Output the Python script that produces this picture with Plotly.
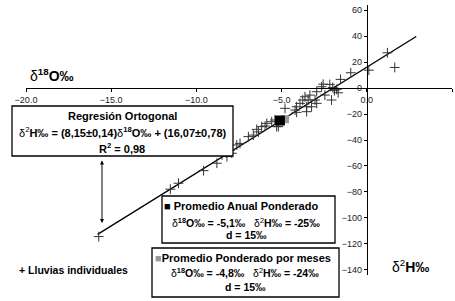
import plotly.graph_objects as go

# Individual rainfall samples (delta 18O, delta 2H)
rain_o18 = [1.21, 1.64, 0.12, -0.94, -1.54, -2.17, -2.56, -1.77, -1.68, -2.07,
            -2.65, -2.94, -2.46, -3.34, -3.63, -3.44, -3.76, -3.04, -2.94, -3.92,
            -3.53, -4.12, -3.24, -4.21, -4.12, -3.53, -4.80, -5.19, -6.66, -6.36,
            -5.97, -5.58, -5.39, -5.29, -5.87, -6.17, -6.46, -6.95, -7.44, -7.63,
            -8.02, -8.21, -8.50, -7.92, -8.21, -8.80, -9.58, -11.05, -11.53, -15.73,
            -2.00, -1.90]
rain_h2 = [27.2, 15.9, 13.8, 11.8, 6.7, 2.8, 3.0, -1.0, -3.6, -9.2,
           1.0, -2.8, -5.4, -5.4, -6.7, -9.2, -9.2, -9.2, -11.8, -11.8,
           -14.4, -14.4, -14.4, -16.9, -18.7, -18.2, -15.6, -29.7, -36.2, -33.8,
           -29.2, -25.9, -24.6, -29.7, -27.2, -29.7, -31.8, -37.4, -42.6, -43.8,
           -47.7, -49.8, -51.5, -50.2, -52.8, -57.9, -63.6, -73.3, -77.9, -114.4,
           0.5, -2.0]

# Weighted means
annual_o18, annual_h2 = [-5.1], [-25.0]
monthly_o18, monthly_h2 = [-4.8], [-24.0]

# Orthogonal regression
slope, intercept = 8.15, 16.07
line_x = [-15.8, 2.9]
line_y = [slope * v + intercept for v in line_x]

x_ticks = [-20, -15, -10, -5, 0, 5]
y_ticks = [-140, -120, -100, -80, -60, -40, -20, 0, 20, 40, 60]

FONT = "Liberation Sans, Arial, sans-serif"

fig = go.Figure()
fig.add_trace(go.Scatter(x=line_x, y=line_y, mode="lines",
                         line=dict(color="black", width=1.3), hoverinfo="skip"))
fig.add_trace(go.Scatter(x=rain_o18, y=rain_h2, mode="markers",
                         marker=dict(symbol="cross-thin", size=7,
                                     line=dict(width=1, color="#333333"))))
fig.add_trace(go.Scatter(x=monthly_o18, y=monthly_h2, mode="markers",
                         marker=dict(symbol="square", size=8, color="#999999")))
fig.add_trace(go.Scatter(x=annual_o18, y=annual_h2, mode="markers",
                         marker=dict(symbol="square", size=10, color="black")))

fig.update_layout(
    width=455, height=301,
    margin=dict(l=26, r=3, t=5, b=26),
    paper_bgcolor="white", plot_bgcolor="white",
    showlegend=False,
    font=dict(family=FONT, size=9, color="black"),
    xaxis=dict(range=[-20, 5], tickvals=x_ticks, tickformat=".1f",
               showgrid=False, zeroline=False, showline=True,
               linecolor="black", linewidth=1, ticks="outside", ticklen=3,
               tickcolor="black", anchor="free", position=144 / 208,
               tickfont=dict(size=9, color="#222222")),
    yaxis=dict(range=[-144, 64], tickvals=y_ticks,
               showgrid=False, zeroline=False, showline=True,
               linecolor="black", linewidth=1, ticks="outside", ticklen=3,
               tickcolor="black", anchor="free", position=0.8,
               tickfont=dict(size=9, color="#222222")),
)

# boxes in paper coordinates (plot area: x 26..452 px, y 5..275 px)
def px_x(p):
    return (p - 26) / 426.0

def px_y(p):
    return (275 - p) / 270.0

boxes = [(12, 106, 233, 156), (162, 196, 335, 243), (152, 248, 339, 297)]
for (x0, y0, x1, y1) in boxes:
    fig.add_shape(type="rect", xref="paper", yref="paper",
                  x0=px_x(x0), x1=px_x(x1), y0=px_y(y1), y1=px_y(y0),
                  line=dict(color="black", width=1.3), fillcolor="white",
                  layer="above")

D = "δ"
lines = [
    (122, 116, "<b>Regresión Ortogonal</b>", 11),
    (122, 132, D + "<sup>2</sup><b>H‰ = (8,15±0,14)</b>" + D +
     "<sup><b>18</b></sup><b>O‰ + (16,07±0,78)</b>", 11),
    (122, 148, "<b>R<sup>2</sup> = 0,98</b>", 11),
    (241, 206, "<b>■ Promedio Anual Ponderado</b>", 11),
    (246, 222, D + "<sup><b>18</b></sup><b>O‰ = -5,1‰</b>   " + D +
     "<sup>2</sup><b>H‰ = -25‰</b>", 10.5),
    (246, 235, "<b>d = 15‰</b>", 10.5),
    (243, 258, "<span style='color:#999999'>■</span><b>Promedio Ponderado por meses</b>", 11),
    (245, 272, D + "<sup><b>18</b></sup><b>O‰ = -4,8‰</b>   " + D +
     "<sup>2</sup><b>H‰ = -24‰</b>", 10.5),
    (245, 287, "<b>d = 15‰</b>", 10.5),
    (73, 270, "<b>+ Lluvias individuales</b>", 10.5),
    (52, 75, D + "<sup><b>18</b></sup><b>O‰</b>", 14),
    (410, 266, D + "<sup>2</sup><b>H‰</b>", 14),
]
for (cx, cy, txt, sz) in lines:
    fig.add_annotation(xref="paper", yref="paper", x=px_x(cx), y=px_y(cy),
                       text=txt, showarrow=False, xanchor="center",
                       yanchor="middle", font=dict(family=FONT, size=sz,
                                                   color="black"))

# double-headed arrow below the regression box
fig.add_annotation(xref="paper", yref="paper", axref="pixel", ayref="pixel",
                   x=px_x(102), y=px_y(223), ax=0, ay=-64,
                   text="", showarrow=True, arrowhead=2, arrowsize=0.8,
                   arrowwidth=1, arrowside="end+start", arrowcolor="black",
                   startarrowhead=2, startarrowsize=0.8)

fig.write_html("out.html", config={"displayModeBar": False},
               post_script="document.body.style.margin='0';"
                           "document.body.style.overflow='hidden';")
